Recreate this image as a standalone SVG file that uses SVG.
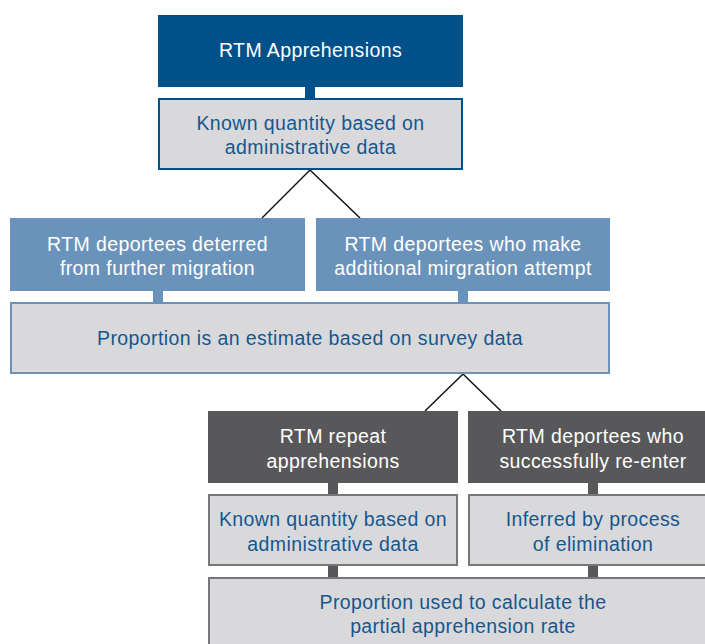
<svg xmlns="http://www.w3.org/2000/svg" width="705" height="644" viewBox="0 0 705 644">
  <style>
    text { font-family: "Liberation Sans", Arial, sans-serif; font-size: 19.5px; letter-spacing: 0.4px; text-anchor: middle; }
    .w { fill: #ffffff; }
    .b { fill: #15578f; }
    .navy { fill: #00508a; }
    .steel { fill: #6a93bb; }
    .slate { fill: #58585a; }
    .note { fill: #d9d9db; stroke-width: 2; }
    .link { stroke: #111111; stroke-width: 1.5; fill: none; }
  </style>

  <g id="connectors">
    <rect class="navy" x="305" y="86" width="10" height="13"/>
    <line class="link" x1="310" y1="170" x2="262" y2="218"/>
    <line class="link" x1="310" y1="170" x2="360" y2="218"/>
    <rect class="steel" x="153" y="290" width="10" height="13"/>
    <rect class="steel" x="458" y="290" width="10" height="13"/>
    <line class="link" x1="463" y1="374" x2="425" y2="411"/>
    <line class="link" x1="463" y1="374" x2="501" y2="411"/>
    <rect class="slate" x="328" y="482" width="10" height="13"/>
    <rect class="slate" x="588" y="482" width="10" height="13"/>
    <rect class="slate" x="328" y="565" width="10" height="13"/>
    <rect class="slate" x="588" y="565" width="10" height="13"/>
  </g>

  <g id="rtm-apprehensions">
    <rect class="navy" x="158" y="15" width="305" height="72"/>
    <text class="w" x="310.5" y="57">RTM Apprehensions</text>
  </g>

  <g id="known-admin-top">
    <rect class="note" x="159" y="99" width="303" height="70" stroke="#00508a"/>
    <text class="b" x="310.5" y="129.5">Known quantity based on</text>
    <text class="b" x="310.5" y="153.5">administrative data</text>
  </g>

  <g id="deterred">
    <rect class="steel" x="10" y="218" width="295" height="73"/>
    <text class="w" x="157.5" y="250.5">RTM deportees deterred</text>
    <text class="w" x="157.5" y="275">from further migration</text>
  </g>

  <g id="additional-attempt">
    <rect class="steel" x="316" y="218" width="294" height="73"/>
    <text class="w" x="463" y="250.5">RTM deportees who make</text>
    <text class="w" x="463" y="275">additional mirgration attempt</text>
  </g>

  <g id="survey-estimate">
    <rect class="note" x="11" y="303" width="598" height="70" stroke="#6a93bb"/>
    <text class="b" x="310" y="344.5">Proportion is an estimate based on survey data</text>
  </g>

  <g id="repeat-apprehensions">
    <rect class="slate" x="208" y="411" width="250" height="72"/>
    <text class="w" x="333" y="443">RTM repeat</text>
    <text class="w" x="333" y="467.5">apprehensions</text>
  </g>

  <g id="successful-reentry">
    <rect class="slate" x="468" y="411" width="240" height="72"/>
    <text class="w" x="593" y="443">RTM deportees who</text>
    <text class="w" x="593" y="467.5">successfully re-enter</text>
  </g>

  <g id="known-admin-bottom">
    <rect class="note" x="209" y="495" width="248" height="70" stroke="#77777a"/>
    <text class="b" x="333" y="526">Known quantity based on</text>
    <text class="b" x="333" y="550.5">administrative data</text>
  </g>

  <g id="elimination">
    <rect class="note" x="469" y="495" width="240" height="70" stroke="#77777a"/>
    <text class="b" x="593" y="526">Inferred by process</text>
    <text class="b" x="593" y="550.5">of elimination</text>
  </g>

  <g id="partial-rate">
    <rect class="note" x="209" y="578" width="500" height="70" stroke="#77777a"/>
    <text class="b" x="463" y="608.5">Proportion used to calculate the</text>
    <text class="b" x="463" y="633">partial apprehension rate</text>
  </g>
</svg>
